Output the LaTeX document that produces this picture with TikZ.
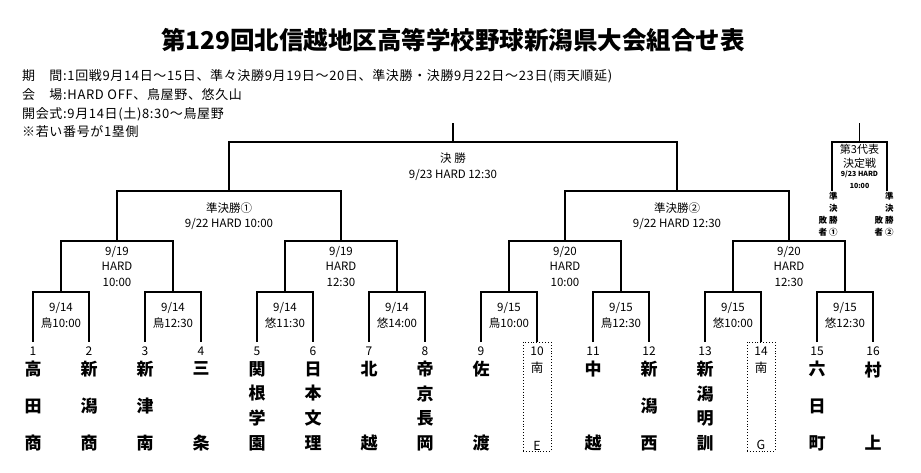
\documentclass[tikz,border=0pt]{standalone}
\usepackage{fontspec}
\setmainfont{Noto Sans CJK JP}
\newfontfamily\infofont{Noto Sans CJK JP}[LetterSpace=5]
\usetikzlibrary{calc}
\tikzset{
    knockout/.style={
        to path={(\tikztostart) -- ++(0,-#1) -| (\tikztotarget)}
    },
    knockout/.default=50,
}
\tikzset{bracket/.style={line width=1.2pt, black}}
\tikzset{headline/.style={inner sep=0pt, font=\fontsize{24.5}{28}\selectfont\bfseries}}
\tikzset{info/.style={anchor=west, inner sep=0pt, font=\infofont\fontsize{13}{15}\selectfont}}
\tikzset{gamelab/.style={align=center, inner sep=0pt, font=\fontsize{11.5}{15.5}\selectfont}}
\tikzset{seednum/.style={inner sep=0pt, font=\fontsize{12}{14}\selectfont}}
\tikzset{school/.style={inner sep=0pt, font=\fontsize{17}{20}\selectfont\bfseries}}
\tikzset{openslot/.style={inner sep=0pt, font=\fontsize{12.5}{15}\selectfont}}
\tikzset{wildcard/.style={draw, dotted, line width=0.9pt, minimum width=28pt, minimum height=109pt, inner sep=0pt}}
\tikzset{thirdlab/.style={inner sep=0pt, font=\fontsize{11}{12}\selectfont}}
\tikzset{thirdtime/.style={inner sep=0pt, font=\fontsize{7}{8}\selectfont\bfseries}}
\tikzset{loser/.style={inner sep=0pt, font=\fontsize{8.5}{12}\selectfont\bfseries}}
\newcommand\vname[1]{\parbox[c][88pt][s]{24pt}{\centering #1\par}}
\newcommand\nx{\par\vfill}

\begin{document}
\begin{tikzpicture}[x=1pt, y=-1pt]
    \useasboundingbox[fill=white] (0,0) rectangle (921,473);

    \node[headline] (title) at (453,40){第129回北信越地区高等学校野球新潟県大会組合せ表};

    \node[info] (period) at (22,76){期　間:1回戦9月14日～15日、準々決勝9月19日～20日、準決勝・決勝9月22日～23日(雨天順延)};
    \node[info] (venue) at (22,95){会　場:HARD OFF、鳥屋野、悠久山};
    \node[info] (opening) at (22,114){開会式:9月14日(土)8:30～鳥屋野};
    \node[info] (note) at (22,132){※若い番号が1塁側};

    \foreach \i in {1,...,16}{
        \coordinate (s\i) at ({33+56*(\i-1)},342);
        \node[seednum] (n\i) at ({33+56*(\i-1)},351){\i};
    }
    \foreach \k in {1,...,8}{
        \coordinate (g\k) at ({61+112*(\k-1)},292);
    }
    \coordinate (q1) at (117,241);
    \coordinate (q2) at (341,241);
    \coordinate (q3) at (565,241);
    \coordinate (q4) at (789,241);
    \coordinate (f1) at (229,191);
    \coordinate (f2) at (677,191);
    \coordinate (champ) at (453,142);
    \coordinate (champtop) at (453,123);
    \coordinate (l1) at (832,191);
    \coordinate (l2) at (887,191);
    \coordinate (third) at (859.5,142);
    \coordinate (thirdtop) at (859.5,123);

    \draw[bracket] (s1) to[knockout] (s2);
    \draw[bracket] (s3) to[knockout] (s4);
    \draw[bracket] (s5) to[knockout] (s6);
    \draw[bracket] (s7) to[knockout] (s8);
    \draw[bracket] (s9) to[knockout] (s10);
    \draw[bracket] (s11) to[knockout] (s12);
    \draw[bracket] (s13) to[knockout] (s14);
    \draw[bracket] (s15) to[knockout] (s16);
    \draw[bracket] (g1) to[knockout=51] (g2);
    \draw[bracket] (g3) to[knockout=51] (g4);
    \draw[bracket] (g5) to[knockout=51] (g6);
    \draw[bracket] (g7) to[knockout=51] (g8);
    \draw[bracket] (q1) to[knockout] (q2);
    \draw[bracket] (q3) to[knockout] (q4);
    \draw[bracket] (f1) to[knockout=49] (f2);
    \draw[bracket] (champ) -- (champtop);
    \draw[bracket] (l1) to[knockout=49] (l2);
    \draw[bracket] (third) -- (thirdtop);

    \node[gamelab] (final) at (453,166.5){決 勝\\9/23 HARD 12:30};
    \node[gamelab] (semi1) at (229,216){準決勝①\\9/22 HARD 10:00};
    \node[gamelab] (semi2) at (677,216){準決勝②\\9/22 HARD 12:30};
    \node[gamelab] (quar1) at (117,266.5){9/19\\HARD\\10:00};
    \node[gamelab] (quar2) at (341,266.5){9/19\\HARD\\12:30};
    \node[gamelab] (quar3) at (565,266.5){9/20\\HARD\\10:00};
    \node[gamelab] (quar4) at (789,266.5){9/20\\HARD\\12:30};
    \node[gamelab] (first1) at (61,315.5){9/14\\鳥10:00};
    \node[gamelab] (first2) at (173,315.5){9/14\\鳥12:30};
    \node[gamelab] (first3) at (285,315.5){9/14\\悠11:30};
    \node[gamelab] (first4) at (397,315.5){9/14\\悠14:00};
    \node[gamelab] (first5) at (509,315.5){9/15\\鳥10:00};
    \node[gamelab] (first6) at (621,315.5){9/15\\鳥12:30};
    \node[gamelab] (first7) at (733,315.5){9/15\\悠10:00};
    \node[gamelab] (first8) at (845,315.5){9/15\\悠12:30};

    \node[thirdlab] (thirdA) at (859.5,149){第3代表};
    \node[thirdlab] (thirdB) at (859.5,163){決定戦};
    \node[thirdtime] (thirdC) at (859.5,174.5){9/23 HARD};
    \node[thirdtime] (thirdD) at (859.5,186){10:00};
    \node[loser] (loser1) at (828,215){\begin{tabular}{@{}c@{\hspace{2pt}}c@{}} &準\\ &決\\ 敗&勝\\ 者&①\end{tabular}};
    \node[loser] (loser2) at (884,215){\begin{tabular}{@{}c@{\hspace{2pt}}c@{}} &準\\ &決\\ 敗&勝\\ 者&②\end{tabular}};

    \node[wildcard] (box10) at (537,396.5){};
    \node[wildcard] (box14) at (761,396.5){};

    \node[school] (t1) at (33,406){\vname{高\nx 田\nx 商}};
    \node[school] (t2) at (89,406){\vname{新\nx 潟\nx 商}};
    \node[school] (t3) at (145,406){\vname{新\nx 津\nx 南}};
    \node[school] (t4) at (201,406){\vname{三\nx 条}};
    \node[school] (t5) at (257,406){\vname{関\nx 根\nx 学\nx 園}};
    \node[school] (t6) at (313,406){\vname{日\nx 本\nx 文\nx 理}};
    \node[school] (t7) at (369,406){\vname{北\nx 越}};
    \node[school] (t8) at (425,406){\vname{帝\nx 京\nx 長\nx 岡}};
    \node[school] (t9) at (481,406){\vname{佐\nx 渡}};
    \node[openslot] (t10) at (537,406){\vname{南\nx E}};
    \node[school] (t11) at (593,406){\vname{中\nx 越}};
    \node[school] (t12) at (649,406){\vname{新\nx 潟\nx 西}};
    \node[school] (t13) at (705,406){\vname{新\nx 潟\nx 明\nx 訓}};
    \node[openslot] (t14) at (761,406){\vname{南\nx G}};
    \node[school] (t15) at (817,406){\vname{六\nx 日\nx 町}};
    \node[school] (t16) at (873,406){\vname{村\nx 上}};
\end{tikzpicture}
\end{document}
